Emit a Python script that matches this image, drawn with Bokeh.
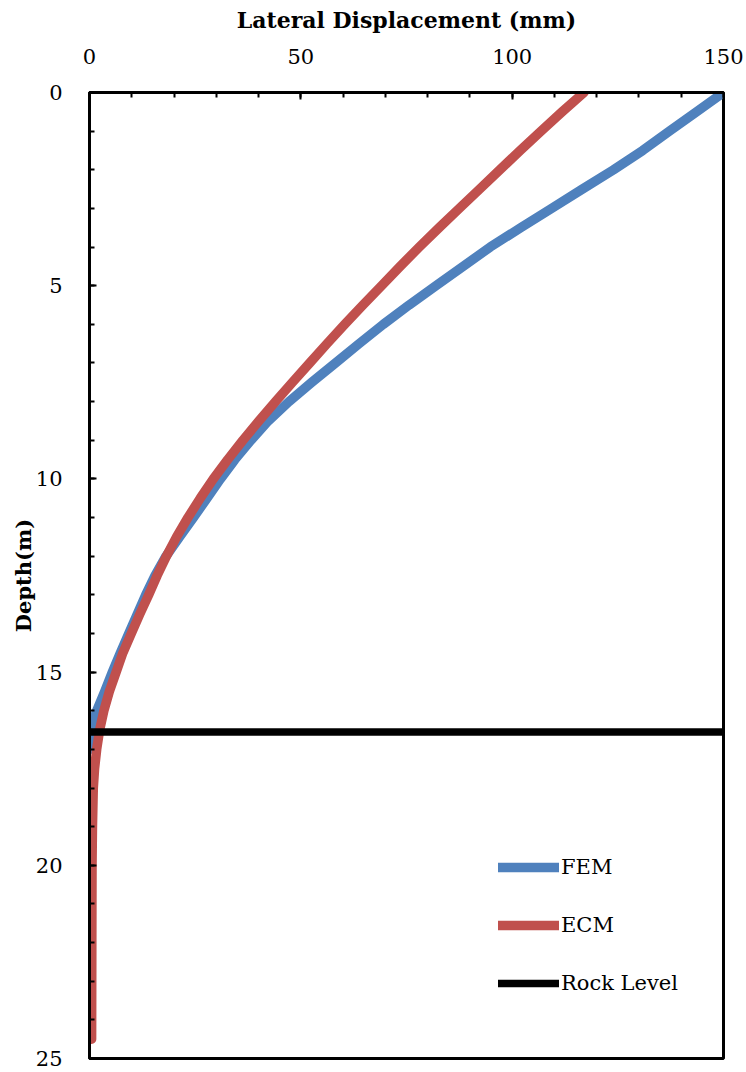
from bokeh.plotting import figure
from bokeh.models import Range1d, FixedTicker, Legend, LegendItem
from bokeh.embed import file_html
from bokeh.resources import INLINE

# ---- data ----
fem_depth = [0, 0.5, 1, 1.5, 2, 2.5, 3, 3.5, 4, 4.5, 5, 5.5, 6, 6.5, 7, 7.5, 8,
             8.5, 9, 9.5, 10, 10.5, 11, 11.5, 12, 12.5, 13, 13.5, 14, 14.5, 15,
             15.5, 16, 16.5, 17]
fem_disp = [150, 143.6, 137.2, 130.9, 124.0, 116.6, 109.3, 102.0, 94.8, 88.4,
            82.0, 75.6, 69.5, 63.8, 58.2, 52.6, 47.2, 42.3, 38.2, 34.4, 31.0,
            27.8, 24.6, 21.3, 18.1, 15.5, 13.3, 11.3, 9.3, 7.3, 5.4, 3.6, 1.7,
            0.2, 0]

ecm_depth = [0, 0.5, 1, 1.5, 2, 2.5, 3, 3.5, 4, 4.5, 5, 5.5, 6, 6.5, 7, 7.5, 8,
             8.5, 9, 9.5, 10, 10.5, 11, 11.5, 12, 12.5, 13, 13.5, 14, 14.5, 15,
             15.5, 16, 16.5, 17, 17.5, 18, 19, 20, 22, 24.5]
ecm_disp = [117.0, 111.8, 106.8, 101.9, 97.1, 92.3, 87.5, 82.7, 78.0, 73.5,
            69.1, 64.7, 60.4, 56.2, 52.1, 48.0, 44.0, 40.1, 36.3, 32.7, 29.3,
            26.2, 23.3, 20.6, 18.2, 16.0, 14.0, 11.9, 9.9, 7.9, 6.3, 4.7, 3.4,
            2.4, 1.7, 1.2, 0.9, 0.7, 0.6, 0.55, 0.5]

rock_depth = 16.55
rock_x = [0, 150]

x_ticks = [0, 50, 100, 150]
x_minor = list(range(0, 151, 10))
y_ticks = [0, 5, 10, 15, 20, 25]
y_minor = list(range(0, 26))

FONT = "DejaVu Serif"

p = figure(frame_width=634, frame_height=966,
           x_range=Range1d(0, 150), y_range=Range1d(25, 0),
           x_axis_location="above",
           output_backend="svg", toolbar_location=None,
           min_border_left=89, min_border_top=92,
           min_border_right=20, min_border_bottom=13)

p.xgrid.visible = False
p.ygrid.visible = False
p.outline_line_color = "black"
p.outline_line_width = 3
p.background_fill_color = "white"

p.xaxis.ticker = FixedTicker(ticks=x_ticks, minor_ticks=x_minor)
p.yaxis.ticker = FixedTicker(ticks=y_ticks, minor_ticks=y_minor)
p.xaxis.axis_label = "Lateral Displacement (mm)"
p.yaxis.axis_label = "Depth(m)"

for ax in (p.xaxis[0], p.yaxis[0]):
    ax.axis_label_text_font = FONT
    ax.axis_label_text_font_style = "bold"
    ax.axis_label_text_font_size = "21px"
    ax.axis_label_text_color = "black"
    ax.major_label_text_font = FONT
    ax.major_label_text_font_size = "21px"
    ax.major_label_text_color = "black"
    ax.axis_line_width = 3
    ax.axis_line_color = "black"
    ax.major_tick_in = 7
    ax.major_tick_out = 0
    ax.minor_tick_in = 5
    ax.minor_tick_out = 0
    ax.major_tick_line_width = 2
    ax.minor_tick_line_width = 2
    ax.major_tick_line_color = "black"
    ax.minor_tick_line_color = "black"

p.xaxis.axis_label_text_font_size = "22px"
p.xaxis.major_label_standoff = 29
p.xaxis.axis_label_standoff = 13
p.yaxis.major_label_standoff = 27
p.yaxis.axis_label_standoff = -3

r_fem = p.line(fem_disp, fem_depth, line_color="#4F81BD", line_width=9.5,
               line_cap="round", line_join="round")
r_ecm = p.line(ecm_disp, ecm_depth, line_color="#C0504D", line_width=9.5,
               line_cap="round", line_join="round")
r_rock = p.line(rock_x, [rock_depth, rock_depth], line_color="black",
                line_width=7.5, line_cap="round")

legend = Legend(items=[LegendItem(label="FEM", renderers=[r_fem]),
                       LegendItem(label="ECM", renderers=[r_ecm]),
                       LegendItem(label="Rock Level", renderers=[r_rock])],
                location=(409, 63), padding=0, margin=0, spacing=34,
                glyph_width=61, glyph_height=20, label_height=20,
                label_standoff=2, border_line_color=None,
                background_fill_alpha=0,
                label_text_font=FONT, label_text_font_size="21px",
                label_text_color="black")
p.add_layout(legend)

open("out.html", "w").write(file_html(p, INLINE))
